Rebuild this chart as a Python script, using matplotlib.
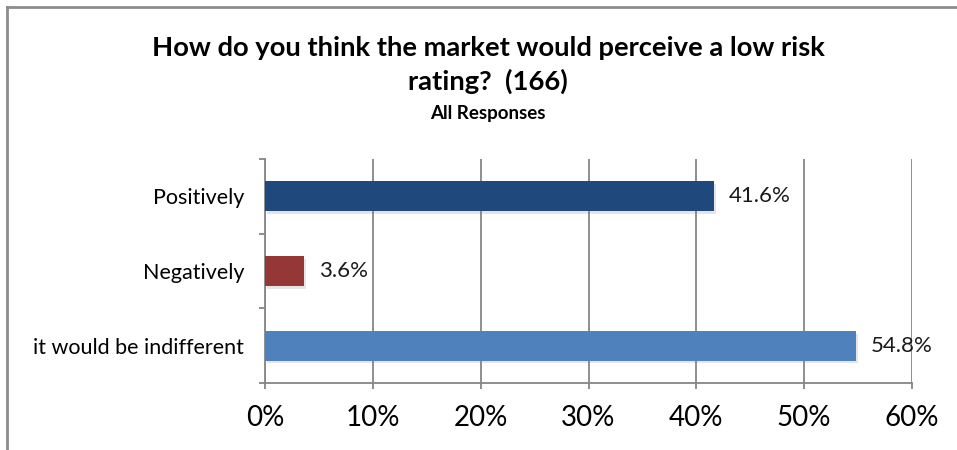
import matplotlib
matplotlib.use("Agg")
import matplotlib.pyplot as plt
from matplotlib.lines import Line2D
import matplotlib.patheffects as pe

categories = ["Positively", "Negatively", "it would be indifferent"]
values = [41.6, 3.6, 54.8]
colors = ["#1F497D", "#953735", "#4F81BD"]
xticks = [0, 10, 20, 30, 40, 50, 60]

plt.rcParams['font.family'] = ['Lato', 'DejaVu Sans']

fig = plt.figure(figsize=(9.57, 4.5), dpi=100)
ax = fig.add_axes([265/957, 1 - 383/450, (912 - 265)/957, (383 - 159)/450])

ypos = list(range(len(categories)))
bars = ax.barh(ypos, values, height=0.4, color=colors, zorder=3)
for b in bars:
    b.set_path_effects([pe.SimplePatchShadow(offset=(1.5, -2), shadow_rgbFace="#808080", alpha=0.2),
                        pe.Normal()])

for y, v in zip(ypos, values):
    ax.annotate(f"{v:.1f}%", (v, y), xytext=(11, 0), textcoords="offset points",
                va="center", ha="left", fontsize=16, color="#1a1a1a")

ax.set_xlim(0, 60)
ax.set_ylim(len(categories) - 0.5, -0.5)
ax.set_xticks(xticks)
ax.set_xticklabels([f"{t}%" for t in xticks], fontsize=20)
ax.set_yticks(ypos)
ax.set_yticklabels(categories, fontsize=15.5)
ax.set_yticks([i - 0.5 for i in range(len(categories) + 1)], minor=True)
ax.tick_params(axis="y", which="major", length=0, pad=15)
ax.tick_params(axis="y", which="minor", length=4.5, color="#868686", width=1.3)
ax.tick_params(axis="x", length=4.5, color="#868686", width=1.3, pad=11)

ax.grid(axis="x", color="#868686", linewidth=1.3, zorder=0)
for s in ["top", "right"]:
    ax.spines[s].set_visible(False)
for s in ["left", "bottom"]:
    ax.spines[s].set_color("#868686")
    ax.spines[s].set_linewidth(1.3)

fig.text(0.51, 1 - 65/450, "How do you think the market would perceive a low risk\nrating?  (166)",
         ha="center", va="center", fontsize=19.7, fontweight="bold", linespacing=1.42)
fig.text(0.51, 1 - 113/450, "All Responses", ha="center", va="center",
         fontsize=13.5, fontweight="bold")

# outer chart frame
fig.add_artist(Line2D([7/957, 1], [1 - 7/450, 1 - 7/450], transform=fig.transFigure,
                      color="#8c8c8c", linewidth=2))
fig.add_artist(Line2D([7/957, 7/957], [0, 1 - 7/450], transform=fig.transFigure,
                      color="#8c8c8c", linewidth=2))

fig.savefig("out.png", dpi=100)
